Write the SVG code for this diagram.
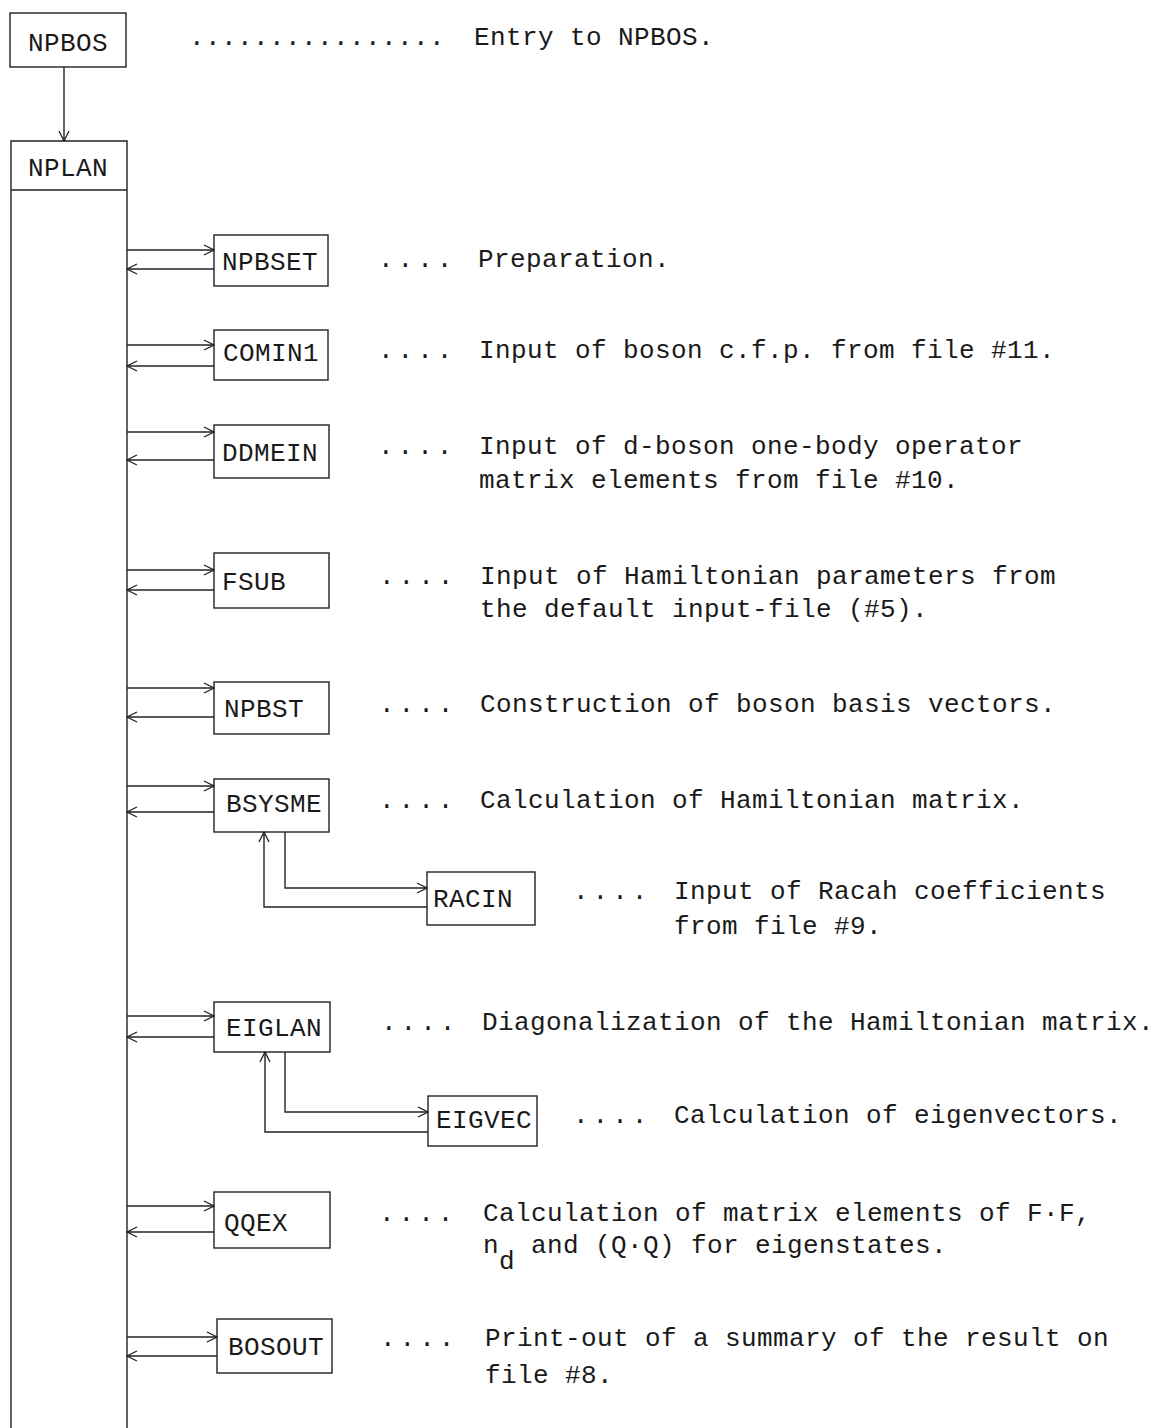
<svg xmlns="http://www.w3.org/2000/svg" width="1153" height="1428" viewBox="0 0 1153 1428">
<defs>
<style>
.t{font-family:"Liberation Mono","DejaVu Sans Mono",monospace;font-size:26px;letter-spacing:0.4px;fill:#1a1a1a}
.d{font-family:"Liberation Mono","DejaVu Sans Mono",monospace;font-size:26px;letter-spacing:4px;fill:#1a1a1a}
.b{fill:none;stroke:#222;stroke-width:1.4}
.c{fill:none;stroke:#222;stroke-width:1.4}
</style>
<marker id="ah" viewBox="0 0 12 12" refX="11" refY="6" markerWidth="12" markerHeight="12" markerUnits="userSpaceOnUse" orient="auto">
<path d="M1,1 L11,6 L1,11" fill="none" stroke="#222" stroke-width="1.3"/>
</marker>
</defs>
<rect width="1153" height="1428" fill="#fff"/>

<g id="NPBOS">
<rect class="b" x="10" y="13" width="116" height="54"/>
<text class="t" x="28" y="51">NPBOS</text>
</g>
<text class="t" x="189" y="45">................</text>
<text class="t" x="474" y="45">Entry to NPBOS.</text>

<g id="NPLAN">
<path class="b" d="M11,1428 L11,141 L127,141 L127,1428 M11,190 L127,190"/>
<text class="t" x="28" y="176">NPLAN</text>
</g>

<g id="NPBSET">
<rect class="b" x="214" y="235" width="114" height="51"/>
<text class="t" x="222" y="270">NPBSET</text>
<text class="d" x="378" y="267">....</text>
<text class="t" x="478" y="267">Preparation.</text>
</g>

<g id="COMIN1">
<rect class="b" x="214" y="330" width="114" height="50"/>
<text class="t" x="223" y="361">COMIN1</text>
<text class="d" x="378" y="358">....</text>
<text class="t" x="479" y="358">Input of boson c.f.p. from file #11.</text>
</g>

<g id="DDMEIN">
<rect class="b" x="214" y="425" width="115" height="53"/>
<text class="t" x="222" y="461">DDMEIN</text>
<text class="d" x="378" y="454">....</text>
<text class="t" x="479" y="454">Input of d-boson one-body operator</text>
<text class="t" x="479" y="488">matrix elements from file #10.</text>
</g>

<g id="FSUB">
<rect class="b" x="214" y="553" width="115" height="55"/>
<text class="t" x="222" y="590">FSUB</text>
<text class="d" x="379" y="584">....</text>
<text class="t" x="480" y="584">Input of Hamiltonian parameters from</text>
<text class="t" x="480" y="617">the default input-file (#5).</text>
</g>

<g id="NPBST">
<rect class="b" x="214" y="682" width="115" height="52"/>
<text class="t" x="224" y="717">NPBST</text>
<text class="d" x="379" y="712">....</text>
<text class="t" x="480" y="712">Construction of boson basis vectors.</text>
</g>

<g id="BSYSME">
<rect class="b" x="214" y="779" width="115" height="53"/>
<text class="t" x="226" y="812">BSYSME</text>
<text class="d" x="379" y="808">....</text>
<text class="t" x="480" y="808">Calculation of Hamiltonian matrix.</text>
</g>

<g id="RACIN">
<rect class="b" x="427" y="872" width="108" height="53"/>
<text class="t" x="433" y="907">RACIN</text>
<text class="d" x="573" y="899">....</text>
<text class="t" x="674" y="899">Input of Racah coefficients</text>
<text class="t" x="674" y="934">from file #9.</text>
</g>

<g id="EIGLAN">
<rect class="b" x="214" y="1002" width="116" height="50"/>
<text class="t" x="226" y="1036">EIGLAN</text>
<text class="d" x="381" y="1030">....</text>
<text class="t" x="482" y="1030">Diagonalization of the Hamiltonian matrix.</text>
</g>

<g id="EIGVEC">
<rect class="b" x="428" y="1096" width="109" height="50"/>
<text class="t" x="436" y="1128">EIGVEC</text>
<text class="d" x="573" y="1123">....</text>
<text class="t" x="674" y="1123">Calculation of eigenvectors.</text>
</g>

<g id="QQEX">
<rect class="b" x="214" y="1192" width="116" height="56"/>
<text class="t" x="224" y="1231">QQEX</text>
<text class="d" x="379" y="1221">....</text>
<text class="t" x="483" y="1221">Calculation of matrix elements of F·F,</text>
<text class="t" x="483" y="1253">n<tspan dy="16">d</tspan><tspan dy="-16"> and (Q·Q) for eigenstates.</tspan></text>
</g>

<g id="BOSOUT">
<rect class="b" x="217" y="1319" width="115" height="54"/>
<text class="t" x="228" y="1355">BOSOUT</text>
<text class="d" x="380" y="1346">....</text>
<text class="t" x="485" y="1346">Print-out of a summary of the result on</text>
<text class="t" x="485" y="1383">file #8.</text>
</g>

<g id="connectors">
<path class="c" d="M64,67 L64,141" marker-end="url(#ah)"/>
<path class="c" d="M127,250 L214,250" marker-end="url(#ah)"/>
<path class="c" d="M214,269 L127,269" marker-end="url(#ah)"/>
<path class="c" d="M127,345 L214,345" marker-end="url(#ah)"/>
<path class="c" d="M214,366 L127,366" marker-end="url(#ah)"/>
<path class="c" d="M127,432 L214,432" marker-end="url(#ah)"/>
<path class="c" d="M214,460 L127,460" marker-end="url(#ah)"/>
<path class="c" d="M127,570 L214,570" marker-end="url(#ah)"/>
<path class="c" d="M214,590 L127,590" marker-end="url(#ah)"/>
<path class="c" d="M127,688 L214,688" marker-end="url(#ah)"/>
<path class="c" d="M214,717 L127,717" marker-end="url(#ah)"/>
<path class="c" d="M127,786 L214,786" marker-end="url(#ah)"/>
<path class="c" d="M214,812 L127,812" marker-end="url(#ah)"/>
<path class="c" d="M285,832 L285,888 L427,888" marker-end="url(#ah)"/>
<path class="c" d="M427,907 L264,907 L264,832" marker-end="url(#ah)"/>
<path class="c" d="M127,1016 L214,1016" marker-end="url(#ah)"/>
<path class="c" d="M214,1037 L127,1037" marker-end="url(#ah)"/>
<path class="c" d="M285,1052 L285,1112 L428,1112" marker-end="url(#ah)"/>
<path class="c" d="M428,1132 L265,1132 L265,1052" marker-end="url(#ah)"/>
<path class="c" d="M127,1206 L214,1206" marker-end="url(#ah)"/>
<path class="c" d="M214,1232 L127,1232" marker-end="url(#ah)"/>
<path class="c" d="M127,1337 L217,1337" marker-end="url(#ah)"/>
<path class="c" d="M217,1356 L127,1356" marker-end="url(#ah)"/>
</g>
</svg>
